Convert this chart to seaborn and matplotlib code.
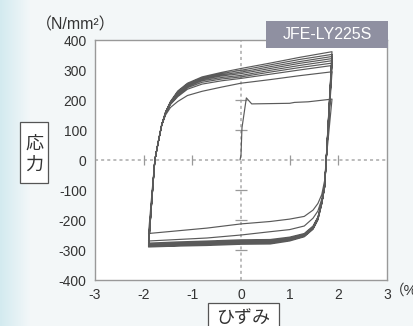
import numpy as np
import pandas as pd
import matplotlib
matplotlib.use("Agg")
import matplotlib.pyplot as plt
from matplotlib.patches import Rectangle
import seaborn as sns

# --- data (strain in %, stress in N/mm2) ---
init_strain = [-0.02, 0.0, 0.02, 0.11, 0.22, 0.6, 1.0, 1.1, 1.38, 1.83]
init_stress = [0, 17, 107, 207, 187, 188, 189, 192, 194, 202]

# compression branches (from right peak going left)
lower_strain = [1.87, 1.75, 1.72, 1.66, 1.58, 1.48, 1.3, 1.0, 0.6, 0.0, -0.7, -1.3, -1.9]
lower_stress = [
    [203, 0, -67, -115, -145, -167, -188, -197, -205, -213, -227, -236, -245],
    [294, 0, -80, -130, -170, -194, -220, -232, -239, -250, -260, -265, -270],
    [315, 0, -85, -140, -190, -220, -245, -257, -265, -266, -270, -273, -277],
    [323, 0, -86, -142, -192, -223, -248, -260, -268, -269, -273, -277, -281],
    [331, 0, -87, -143, -194, -225, -250, -263, -271, -272, -276, -280, -284],
    [338, 0, -88, -144, -196, -227, -252, -265, -274, -275, -279, -282, -286],
    [345, 0, -89, -145, -198, -229, -254, -267, -277, -278, -282, -285, -288],
    [352, 0, -90, -146, -200, -231, -256, -270, -280, -281, -285, -287, -290],
]

# tension branches (from left corner going right)
upper_strain = [-1.9, -1.83, -1.77, -1.7, -1.63, -1.55, -1.45, -1.3, -1.1, -0.8, -0.4, 0.0, 0.6, 1.2, 1.87]
upper_stress = [
    [-245, -110, 0, 60, 115, 150, 175, 195, 215, 229, 243, 256, 268, 281, 294],
    [-270, -120, 0, 60, 116, 155, 185, 211, 236, 253, 264, 272, 286, 300, 315],
    [-277, -125, 0, 60, 116, 156, 187, 215, 241, 259, 270, 277, 293, 308, 323],
    [-281, -127, 0, 60, 116, 157, 189, 219, 245, 264, 275, 282, 299, 315, 331],
    [-284, -128, 0, 60, 116, 158, 191, 222, 248, 268, 280, 288, 305, 322, 338],
    [-286, -129, 0, 60, 117, 159, 192, 225, 251, 271, 284, 293, 311, 328, 345],
    [-288, -130, 0, 60, 117, 159, 193, 227, 253, 274, 288, 299, 317, 335, 352],
    [-290, -130, 0, 60, 117, 160, 195, 230, 256, 277, 292, 305, 323, 342, 361],
]
final_strain = [1.87, 1.75]
final_stress = [361, 0]

x_ticks = [-3, -2, -1, 0, 1, 2, 3]
y_ticks = [-400, -300, -200, -100, 0, 100, 200, 300, 400]
center_xticks = [-2, -1, 1, 2]
center_yticks = [-300, -200, -100, 100, 200, 300]

# build one continuous path
strain = list(init_strain)
stress = list(init_stress)
for lo, up in zip(lower_stress, upper_stress):
    strain += lower_strain + upper_strain
    stress += lo + up
strain += final_strain
stress += final_stress
df = pd.DataFrame({"strain": strain, "stress": stress})

sns.set_theme(style="white")
plt.rcParams["font.family"] = ["Liberation Sans", "Noto Sans CJK JP", "DejaVu Sans"]

fig = plt.figure(figsize=(4.14, 3.26), dpi=100)
fig.patch.set_facecolor("#f3f7f9")

# light cyan fade on the left edge
bg = fig.add_axes([0, 0, 1, 1], zorder=-10)
grad = np.linspace(0, 1, 200)
c0 = np.array([0.83, 0.92, 0.94])
c1 = np.array([0.953, 0.969, 0.976])
w = np.clip(grad / 0.07, 0, 1)[None, :, None]
img = c0 * (1 - w) + c1 * w
bg.imshow(np.repeat(img, 2, axis=0), aspect="auto", extent=[0, 1, 0, 1])
bg.axis("off")

ax = fig.add_axes([95 / 414, 1 - 280 / 326, 292 / 414, 240 / 326])
ax.set_facecolor("white")

# dashed center axes with small crossing ticks
ax.axhline(0, color="#aaaaaa", lw=1.1, ls=(0, (2, 2)), zorder=1)
ax.axvline(0, color="#aaaaaa", lw=1.1, ls=(0, (2, 2)), zorder=1)
ax.vlines(center_xticks, -17, 17, color="#999999", lw=0.9, zorder=1)
ax.hlines(center_yticks, -0.12, 0.12, color="#999999", lw=0.9, zorder=1)

sns.lineplot(data=df, x="strain", y="stress", sort=False, estimator=None,
             color="#5a5a5a", lw=0.85, ax=ax, zorder=3)

ax.set_xlim(-3, 3)
ax.set_ylim(-400, 400)
ax.set_xticks(x_ticks)
ax.set_yticks(y_ticks)
ax.set_xticklabels([str(t) for t in x_ticks], fontsize=10, color="#333333")
ax.set_yticklabels([str(t) for t in y_ticks], fontsize=10, color="#333333")
ax.tick_params(length=0, pad=6)
ax.set_xlabel("")
ax.set_ylabel("")
for s in ax.spines.values():
    s.set_color("#999999")
    s.set_linewidth(1)

# texts
fig.text(36 / 414, 1 - 25 / 326, "（N/mm²）", fontsize=11.5, color="#333333",
         va="center", ha="left")
fig.text(390 / 414, 1 - 291 / 326, "（%）", fontsize=10.5, color="#333333",
         ha="left", va="center")

fig.patches.append(Rectangle((20 / 414, 1 - 183 / 326), 28 / 414, 61 / 326,
                             transform=fig.transFigure, fc="white",
                             ec="#555555", lw=0.9))
fig.text(34 / 414, 1 - 155 / 326, "応\n力", fontsize=13, color="#333333",
         ha="center", va="center", linespacing=1.35)
fig.patches.append(Rectangle((208 / 414, 1 - 330 / 326), 71 / 414, 27 / 326,
                             transform=fig.transFigure, fc="white",
                             ec="#555555", lw=0.9))
fig.text(243 / 414, 1 - 318 / 326, "ひずみ", fontsize=13, color="#333333",
         ha="center", va="center")

# grade label box
lab = fig.add_axes([266 / 414, 1 - 48 / 326, 122 / 414, 27 / 326], zorder=5)
lab.set_facecolor("#8f90a1")
lab.set_xticks([])
lab.set_yticks([])
for s in lab.spines.values():
    s.set_visible(False)
lab.text(0.5, 0.5, "JFE-LY225S", color="white", fontsize=11.5,
         ha="center", va="center", transform=lab.transAxes)

fig.savefig("out.png", dpi=100, facecolor=fig.get_facecolor())
